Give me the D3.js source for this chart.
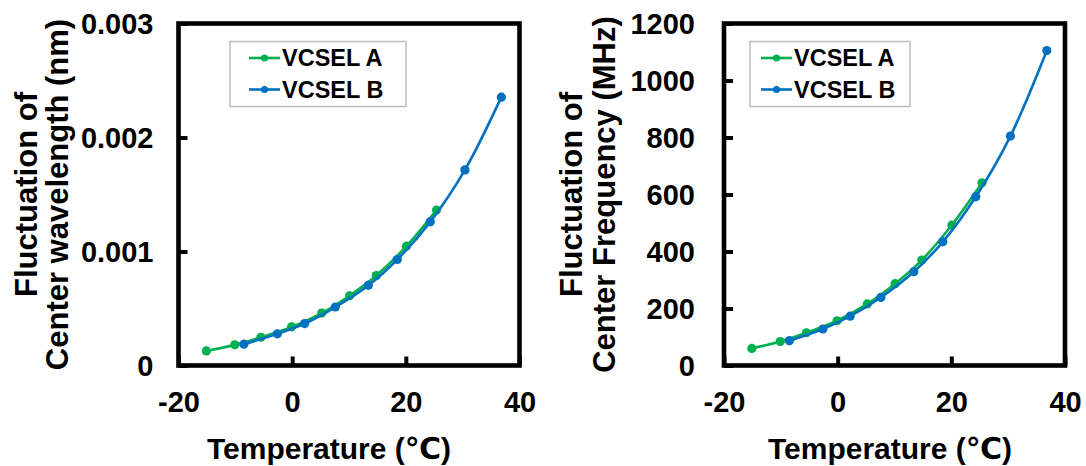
<!DOCTYPE html>
<html>
<head>
<meta charset="utf-8">
<script src="https://cdn.jsdelivr.net/npm/d3@7"></script>
<style>
  html, body { margin: 0; padding: 0; background: #fff; }
  svg { display: block; }
  text { font-family: "Liberation Sans", Arial, "DejaVu Sans", sans-serif; font-weight: bold; fill: #000; }
</style>
</head>
<body>
<svg id="chart" width="1086" height="466"></svg>
<script>
// ---- data ----
const seriesNames = ["VCSEL A", "VCSEL B"];
const seriesColors = ["#00B050", "#0070C0"];

const tempA = [-15.1, -10.1, -5.5, -0.1, 5.2, 10.1, 14.8, 20.1, 25.4];
const tempB = [-8.5, -2.6, 2.2, 7.6, 13.4, 18.5, 24.3, 30.4, 36.8];

const wavelengthA = [0.000128, 0.000181, 0.000248, 0.000339, 0.00046, 0.000612, 0.000789, 0.001047, 0.001364];
const wavelengthB = [0.000187, 0.000278, 0.000368, 0.000513, 0.000703, 0.00093, 0.00126, 0.001716, 0.002354];

const freqA = [60, 84, 115, 157, 216, 287, 370, 493, 641];
const freqB = [87, 128, 173, 239, 329, 434, 592, 805, 1105];

const xTicks = [-20, 0, 20, 40];
const xTickLabels = ["-20", "0", "20", "40"];
const yTicksWave = [0, 0.001, 0.002, 0.003];
const yTickLabelsWave = ["0", "0.001", "0.002", "0.003"];
const yTicksFreq = [0, 200, 400, 600, 800, 1000, 1200];
const yTickLabelsFreq = ["0", "200", "400", "600", "800", "1000", "1200"];

const xTitle = "Temperature (℃)";
const yTitleWave = ["Fluctuation of", "Center wavelength (nm)"];
const yTitleFreq = ["Fluctuation of", "Center Frequency (MHz)"];

// ---- drawing ----
const svg = d3.select("#chart");

function panel(cfg) {
  const g = svg.append("g");
  const x = d3.scaleLinear().domain([-20, 40]).range([cfg.left, cfg.right]);
  const y = d3.scaleLinear().domain([0, cfg.yMax]).range([cfg.bottom, cfg.top]);

  // series lines + markers
  const line = d3.line().x(d => x(d[0])).y(d => y(d[1])).curve(d3.curveCatmullRom.alpha(0.5));
  cfg.series.forEach((s, i) => {
    const pts = s.x.map((v, j) => [v, s.y[j]]);
    const sg = g.append("g");
    sg.append("path").datum(pts).attr("d", line)
      .attr("fill", "none").attr("stroke", seriesColors[i]).attr("stroke-width", 2.6);
    sg.selectAll("circle").data(pts).enter().append("circle")
      .attr("cx", d => x(d[0])).attr("cy", d => y(d[1])).attr("r", 4.6)
      .attr("fill", seriesColors[i]);
  });

  // axes (ticks inward)
  const xa = g.append("g").attr("transform", `translate(0,${cfg.bottom})`)
    .call(d3.axisBottom(x).tickValues(xTicks).tickSize(-9).tickPadding(26)
      .tickFormat((d, i) => xTickLabels[i]));
  const ya = g.append("g").attr("transform", `translate(${cfg.left},0)`)
    .call(d3.axisLeft(y).tickValues(cfg.yTicks).tickSize(-9).tickPadding(cfg.yPad)
      .tickFormat((d, i) => cfg.yLabels[i]));
  [xa, ya].forEach(a => {
    a.select(".domain").remove();
    a.selectAll(".tick line").attr("stroke", "#000").attr("stroke-width", 4);
    a.selectAll(".tick text").style("font-size", "29px")
      .style("font-family", '"Liberation Sans", Arial, sans-serif').style("font-weight", "bold").attr("fill", "#000");
  });
  ya.selectAll(".tick text").attr("dy", "0.36em");

  // frame
  g.append("rect").attr("x", cfg.left).attr("y", cfg.top)
    .attr("width", cfg.right - cfg.left).attr("height", cfg.bottom - cfg.top)
    .attr("fill", "none").attr("stroke", "#000").attr("stroke-width", 4.6);

  // legend
  const lg = g.append("g");
  lg.append("rect").attr("x", cfg.leg.x).attr("y", 41.5).attr("width", cfg.leg.w).attr("height", 65)
    .attr("fill", "#fff").attr("stroke", "#bdbdbd").attr("stroke-width", 1.5);
  seriesNames.forEach((name, i) => {
    const yy = 58 + i * 31.5;
    const lx = cfg.leg.x + cfg.leg.lineStart;
    lg.append("line").attr("x1", lx).attr("x2", lx + 31).attr("y1", yy).attr("y2", yy)
      .attr("stroke", seriesColors[i]).attr("stroke-width", 2.6);
    lg.append("circle").attr("cx", lx + 15.5).attr("cy", yy).attr("r", 3.6).attr("fill", seriesColors[i]);
    lg.append("text").attr("x", lx + 33).attr("y", yy).attr("dy", "0.36em")
      .style("font-size", "23.5px").text(name);
  });

  // x title
  g.append("text").attr("x", cfg.xTitleX).attr("y", 459).attr("text-anchor", "middle")
    .style("font-size", "30px").text(xTitle);

  // y title (two lines, rotated)
  const cy = (cfg.top + cfg.bottom) / 2;
  cfg.yTitle.forEach((t, i) => {
    g.append("text")
      .attr("transform", `translate(${cfg.yTitleX[i]},${cy}) rotate(-90)`)
      .attr("text-anchor", "middle").style("font-size", "31px").text(t);
  });
}

panel({
  left: 178.5, right: 519.5, top: 23.5, bottom: 365.5, yMax: 0.003,
  yTicks: yTicksWave, yLabels: yTickLabelsWave, yPad: 25,
  series: [{x: tempA, y: wavelengthA}, {x: tempB, y: wavelengthB}],
  leg: {x: 230, w: 176, lineStart: 19},
  xTitleX: 329, yTitle: yTitleWave, yTitleX: [37, 68]
});

panel({
  left: 724, right: 1065, top: 23.5, bottom: 365.5, yMax: 1200,
  yTicks: yTicksFreq, yLabels: yTickLabelsFreq, yPad: 29,
  series: [{x: tempA, y: freqA}, {x: tempB, y: freqB}],
  leg: {x: 750, w: 160, lineStart: 11},
  xTitleX: 890, yTitle: yTitleFreq, yTitleX: [582, 615]
});
</script>
</body>
</html>
